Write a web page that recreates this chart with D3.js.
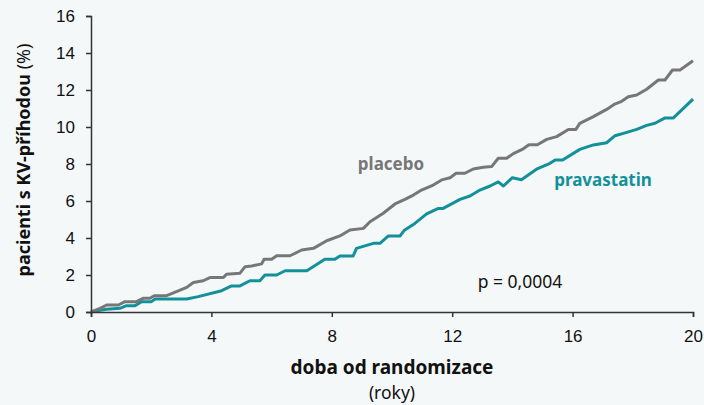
<!DOCTYPE html>
<html>
<head>
<meta charset="utf-8">
<script src="https://cdn.jsdelivr.net/npm/d3@7"></script>
<style>
  body { margin:0; background:#f5f8f8; }
  svg { display:block; font-family:"Noto Sans",sans-serif; }
</style>
</head>
<body>
<svg id="chart" width="704" height="405"></svg>
<script>
var svgWidth=704;
var svgHeight=405;

// doba (roky) a podil pacientu s prihodou (%)
var placeboYears=[0,0.3,0.52,0.91,1.13,1.51,1.73,1.96,2.1,2.51,2.9,3.18,3.4,3.73,3.95,4.4,4.5,4.95,5.12,5.34,5.67,5.75,6.0,6.17,6.61,7.0,7.39,7.83,8.27,8.6,9.05,9.27,9.71,10.1,10.43,10.71,10.98,11.37,11.65,11.93,12.13,12.42,12.7,13.03,13.31,13.53,13.81,14.03,14.36,14.55,14.83,15.14,15.47,15.86,16.11,16.24,16.69,17.13,17.4,17.63,17.85,18.13,18.46,18.85,19.07,19.32,19.57,20];
var placeboValues=[0,0.2,0.38,0.38,0.56,0.56,0.74,0.74,0.88,0.88,1.14,1.33,1.59,1.69,1.86,1.86,2.04,2.1,2.45,2.49,2.6,2.85,2.85,3.04,3.04,3.35,3.44,3.85,4.11,4.43,4.52,4.88,5.34,5.84,6.09,6.32,6.59,6.86,7.14,7.26,7.5,7.5,7.73,7.82,7.86,8.31,8.31,8.56,8.82,9.04,9.04,9.33,9.48,9.87,9.87,10.2,10.56,10.95,11.24,11.39,11.64,11.73,12.04,12.54,12.54,13.08,13.08,13.58];
var pravaYears=[0,0.13,0.52,0.96,1.18,1.46,1.68,2.01,2.13,3.18,3.56,4.34,4.67,4.95,5.28,5.61,5.78,6.17,6.45,7.17,7.77,8.1,8.27,8.71,8.82,9.38,9.6,9.88,10.27,10.4,10.76,11.15,11.54,11.7,12.26,12.59,12.92,13.26,13.53,13.7,14.0,14.3,14.8,15.25,15.42,15.67,16.24,16.69,17.13,17.41,17.8,18.13,18.46,18.74,19.07,19.35,20];
var pravaValues=[0,0.05,0.15,0.2,0.34,0.34,0.56,0.56,0.7,0.7,0.83,1.15,1.41,1.41,1.69,1.69,2.0,2.0,2.23,2.23,2.85,2.85,3.03,3.03,3.44,3.71,3.71,4.11,4.11,4.4,4.79,5.3,5.6,5.6,6.09,6.27,6.59,6.81,7.03,6.81,7.26,7.15,7.72,8.04,8.22,8.22,8.79,9.03,9.15,9.53,9.71,9.87,10.09,10.2,10.49,10.49,11.51];
var xTicks=[0,4,8,12,16,20];
var yTicks=[0,2,4,6,8,10,12,14,16];

var svg=d3.select("#chart");

var xScale=d3.scaleLinear().domain([0,20]).range([91,693]);
var yScale=d3.scaleLinear().domain([0,16]).range([312,16]);

function pairs(xs,ys){
    return xs.map(function(d,i){ return [d,ys[i]]; });
}

var line=d3.line()
    .x(function(d){ return xScale(d[0]); })
    .y(function(d){ return yScale(d[1]); });

// krivky
svg.append("path")
    .attr("d",line(pairs(pravaYears,pravaValues)))
    .attr("fill","none")
    .attr("stroke","#13919a")
    .attr("stroke-width",3)
    .attr("stroke-linejoin","round");

svg.append("path")
    .attr("d",line(pairs(placeboYears,placeboValues)))
    .attr("fill","none")
    .attr("stroke","#777777")
    .attr("stroke-width",3)
    .attr("stroke-linejoin","round");

// osy
var xAxis=svg.append("g")
    .attr("transform","translate(0,312)")
    .call(d3.axisBottom(xScale).tickValues(xTicks).tickSize(5).tickPadding(13).tickFormat(d3.format("d")));
var yAxis=svg.append("g")
    .attr("transform","translate(91,0)")
    .call(d3.axisLeft(yScale).tickValues(yTicks).tickSize(5).tickPadding(11).tickFormat(d3.format("d")));

[xAxis,yAxis].forEach(function(a){
    a.selectAll("path,line").attr("stroke","#333").attr("stroke-width",1.5);
    a.selectAll("text").attr("font-size",17).attr("fill","#111").attr("font-family","inherit");
});

// popisky
svg.append("text")
    .attr("x",392).attr("y",374)
    .attr("text-anchor","middle")
    .attr("font-size",19).attr("font-weight","bold").attr("fill","#111")
    .text("doba od randomizace");
svg.append("text")
    .attr("x",392).attr("y",399)
    .attr("text-anchor","middle")
    .attr("font-size",17.5).attr("fill","#111")
    .text("(roky)");

var yt=svg.append("text")
    .attr("transform","translate(30,160) rotate(-90)")
    .attr("text-anchor","middle")
    .attr("font-size",18).attr("fill","#111");
yt.append("tspan").attr("font-weight","bold").text("pacienti s KV-příhodou");
yt.append("tspan").text(" (%)");

svg.append("text")
    .attr("x",391).attr("y",170)
    .attr("text-anchor","middle")
    .attr("font-size",17).attr("font-weight","bold").attr("fill","#777777")
    .text("placebo");
svg.append("text")
    .attr("x",603).attr("y",186)
    .attr("text-anchor","middle")
    .attr("font-size",17).attr("font-weight","bold").attr("fill","#13919a")
    .text("pravastatin");
svg.append("text")
    .attr("x",520).attr("y",288)
    .attr("text-anchor","middle")
    .attr("font-size",17.5).attr("fill","#111")
    .text("p = 0,0004");
</script>
</body>
</html>
